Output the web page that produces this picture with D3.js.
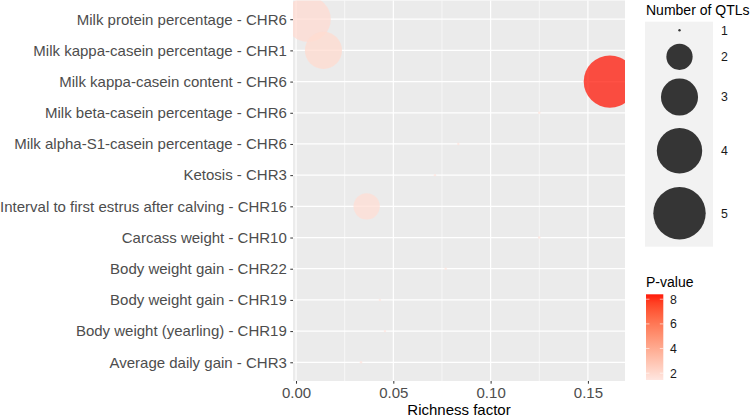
<!DOCTYPE html>
<html>
<head>
<meta charset="utf-8">
<script src="https://cdn.jsdelivr.net/npm/d3@7"></script>
<style>
  body { margin: 0; background: #fff; }
  text { font-family: "Liberation Sans", Arial, sans-serif; }
</style>
</head>
<body>
<svg id="chart" width="750" height="418"></svg>
<script>
// terms, top to bottom
const terms = [
  "Milk protein percentage - CHR6",
  "Milk kappa-casein percentage - CHR1",
  "Milk kappa-casein content - CHR6",
  "Milk beta-casein percentage - CHR6",
  "Milk alpha-S1-casein percentage - CHR6",
  "Ketosis - CHR3",
  "Interval to first estrus after calving - CHR16",
  "Carcass weight - CHR10",
  "Body weight gain - CHR22",
  "Body weight gain - CHR19",
  "Body weight (yearling) - CHR19",
  "Average daily gain - CHR3"
]
const richness = [0.0062, 0.0141, 0.1613, 0.1250, 0.0834, 0.0714, 0.0363, 0.1250, 0.0769, 0.0431, 0.0457, 0.0334]
const qtlCounts = [4, 3, 5, 1, 1, 1, 2, 1, 1, 1, 1, 1]
const pValues = [1.9, 1.95, 8.4, 1.6, 1.55, 1.5, 1.8, 1.6, 1.5, 1.45, 1.5, 1.55]

const xTicks = [0, 0.05, 0.10, 0.15]
const xMinor = [0.025, 0.075, 0.125]
const sizeLevels = [1, 2, 3, 4, 5]
const pTicks = [2, 4, 6, 8]

const data = terms.map((t, i) => ({term: t, x: richness[i], n: qtlCounts[i], p: pValues[i]}))

const svg = d3.select('#chart')
const panel = {left: 293, right: 625, top: 0.5, bottom: 381}

// ggplot style 5% expansion
const [xlo, xhi] = d3.extent(richness)
const pad = (xhi - xlo) * 0.05
const x = d3.scaleLinear().domain([xlo - pad, xhi + pad]).range([panel.left, panel.right])
const y = d3.scalePoint().domain(terms).range([panel.top, panel.bottom]).padding(0.6)
const r = d3.scaleRadial().domain([1, 5]).range([1.2, 26.2])
const pExt = d3.extent(pValues)
const color = d3.scaleLinear().domain(pExt).range(["#FFE6E0", "#FF1A0A"]).interpolate(d3.interpolateLab)

// panel
svg.append('rect')
  .attr('x', panel.left).attr('y', panel.top)
  .attr('width', panel.right - panel.left).attr('height', panel.bottom - panel.top)
  .attr('fill', '#EBEBEB')

svg.append('defs').append('clipPath').attr('id', 'clip')
  .append('rect')
  .attr('x', panel.left).attr('y', panel.top)
  .attr('width', panel.right - panel.left).attr('height', panel.bottom - panel.top)

const grid = svg.append('g')
grid.selectAll('.minor').data(xMinor).join('line')
  .attr('x1', d => x(d)).attr('x2', d => x(d))
  .attr('y1', panel.top).attr('y2', panel.bottom)
  .attr('stroke', '#fff').attr('stroke-width', 0.6)
grid.selectAll('.vmaj').data(xTicks).join('line')
  .attr('x1', d => x(d)).attr('x2', d => x(d))
  .attr('y1', panel.top).attr('y2', panel.bottom)
  .attr('stroke', '#fff').attr('stroke-width', 1.2)
grid.selectAll('.hmaj').data(terms).join('line')
  .attr('x1', panel.left).attr('x2', panel.right)
  .attr('y1', d => y(d)).attr('y2', d => y(d))
  .attr('stroke', '#fff').attr('stroke-width', 1.2)

// points
svg.append('g').attr('clip-path', 'url(#clip)')
  .selectAll('circle')
  .data(data)
  .join('circle')
  .attr('cx', d => x(d.x))
  .attr('cy', d => y(d.term))
  .attr('r', d => r(d.n))
  .attr('fill', d => color(d.p))
  .attr('fill-opacity', 0.76)

// axes
const yAxis = svg.append('g')
  .attr('transform', `translate(${panel.left},0)`)
  .call(d3.axisLeft(y).tickSize(2.7).tickPadding(3.5))
yAxis.select('.domain').remove()
yAxis.selectAll('line').attr('stroke', '#333')
yAxis.selectAll('text').attr('fill', '#4D4D4D').style('font-size', '15px')

const xAxis = svg.append('g')
  .attr('transform', `translate(0,${panel.bottom})`)
  .call(d3.axisBottom(x).tickValues(xTicks).tickFormat(d3.format('.2f')).tickSize(2.7).tickPadding(3.5))
xAxis.select('.domain').remove()
xAxis.selectAll('line').attr('stroke', '#333')
xAxis.selectAll('text').attr('fill', '#4D4D4D').style('font-size', '15px')

svg.append('text')
  .attr('x', (panel.left + panel.right) / 2).attr('y', 415)
  .attr('text-anchor', 'middle')
  .style('font-size', '15px')
  .text('Richness factor')

// size legend
const keyCenters = [30.3, 56.8, 97, 150.8, 213.3]
const sizeLeg = svg.append('g')
sizeLeg.append('text').attr('x', 646).attr('y', 15)
  .style('font-size', '14px').text('Number of QTLs')
sizeLeg.append('rect')
  .attr('x', 645).attr('y', 21.7).attr('width', 68).attr('height', 225)
  .attr('fill', '#F2F2F2')
sizeLeg.selectAll('circle').data(sizeLevels).join('circle')
  .attr('cx', 679.5).attr('cy', (d, i) => keyCenters[i])
  .attr('r', d => r(d))
  .attr('fill', '#000').attr('fill-opacity', 0.78)
sizeLeg.selectAll('.lab').data(sizeLevels).join('text')
  .attr('x', 721).attr('y', (d, i) => keyCenters[i])
  .attr('dy', '0.35em')
  .style('font-size', '12.3px').attr('fill', '#1a1a1a')
  .text(d => d)

// colour legend
const barTop = 294.3, barBottom = 380, barX = 646, barW = 17.3
const cy = d3.scaleLinear().domain(pExt).range([barBottom, barTop])
const colLeg = svg.append('g')
colLeg.append('text').attr('x', 646).attr('y', 287)
  .style('font-size', '14px').text('P-value')
const grad = svg.select('defs').append('linearGradient')
  .attr('id', 'pgrad').attr('x1', 0).attr('x2', 0).attr('y1', 1).attr('y2', 0)
grad.selectAll('stop').data(d3.range(0, 1.0001, 0.1)).join('stop')
  .attr('offset', d => d)
  .attr('stop-color', d => color(pExt[0] + d * (pExt[1] - pExt[0])))
colLeg.append('rect')
  .attr('x', barX).attr('y', barTop).attr('width', barW).attr('height', barBottom - barTop)
  .attr('fill', 'url(#pgrad)')
colLeg.selectAll('.tl').data(pTicks).join('line')
  .attr('x1', barX).attr('x2', barX + barW / 5)
  .attr('y1', d => cy(d)).attr('y2', d => cy(d))
  .attr('stroke', '#fff').attr('stroke-width', 0.6)
colLeg.selectAll('.tr').data(pTicks).join('line')
  .attr('x1', barX + barW * 4 / 5).attr('x2', barX + barW)
  .attr('y1', d => cy(d)).attr('y2', d => cy(d))
  .attr('stroke', '#fff').attr('stroke-width', 0.6)
colLeg.selectAll('text.lab').data(pTicks).join('text')
  .attr('class', 'lab')
  .attr('x', 670).attr('y', d => cy(d))
  .attr('dy', '0.35em')
  .style('font-size', '12.3px').attr('fill', '#1a1a1a')
  .text(d => d)
</script>
</body>
</html>
